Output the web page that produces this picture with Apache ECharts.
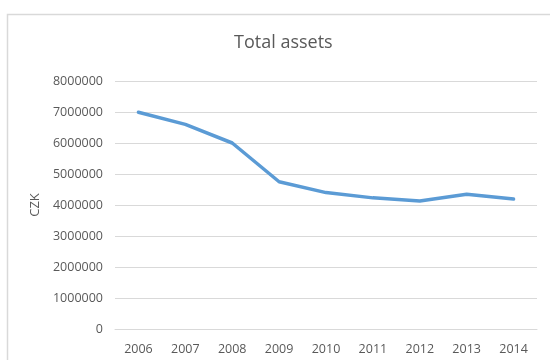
<!DOCTYPE html>
<html>
<head>
<meta charset="utf-8">
<script src="https://cdn.jsdelivr.net/npm/echarts@6/dist/echarts.min.js"></script>
<style>
  html, body { margin: 0; padding: 0; background: #ffffff; overflow: hidden; }
  #chart { width: 550px; height: 360px; }
</style>
</head>
<body>
<div id="chart"></div>
<script>
// Total assets per year, in CZK
const years = ['2006', '2007', '2008', '2009', '2010', '2011', '2012', '2013', '2014'];
const totalAssets = [6990000, 6600000, 6000000, 4750000, 4400000, 4230000, 4130000, 4350000, 4190000];
const yTicks = { min: 0, max: 8000000, interval: 1000000 };

const textColor = '#595959';
const gridColor = '#d9d9d9';
const fontFamily = '"Open Sans", "Liberation Sans", sans-serif';

const chart = echarts.init(document.getElementById('chart'), null, { renderer: 'canvas' });

chart.setOption({
  animation: false,
  backgroundColor: '#ffffff',
  graphic: [
    {
      // chart area frame
      type: 'rect',
      silent: true,
      shape: { x: 7.5, y: 14.5, width: 600, height: 400 },
      style: { fill: 'none', stroke: gridColor, lineWidth: 1.5 }
    }
  ],
  title: {
    text: 'Total assets',
    left: 234,
    top: 34,
    padding: 0,
    textStyle: {
      color: textColor,
      fontFamily: fontFamily,
      fontWeight: 'normal',
      fontSize: 18
    }
  },
  grid: {
    left: 115,
    right: 13,
    top: 81,
    bottom: 31,
    containLabel: false
  },
  xAxis: {
    type: 'category',
    data: years,
    boundaryGap: true,
    axisLine: { show: true, lineStyle: { color: gridColor, width: 1 } },
    axisTick: { show: false },
    axisLabel: {
      color: textColor,
      fontFamily: fontFamily,
      fontSize: 12.5,
      margin: 14
    }
  },
  yAxis: {
    type: 'value',
    min: yTicks.min,
    max: yTicks.max,
    interval: yTicks.interval,
    name: 'CZK',
    nameLocation: 'middle',
    nameGap: 65,
    nameRotate: 90,
    nameTextStyle: {
      color: textColor,
      fontFamily: fontFamily,
      fontSize: 13
    },
    axisLine: { show: false },
    axisTick: { show: false },
    splitLine: { lineStyle: { color: gridColor, width: 1 } },
    axisLabel: {
      color: textColor,
      fontFamily: fontFamily,
      fontSize: 12.5,
      margin: 12,
      formatter: function (v) { return String(v); }
    }
  },
  series: [
    {
      type: 'line',
      data: totalAssets,
      showSymbol: false,
      symbol: 'none',
      lineStyle: { color: '#5b9bd5', width: 3.5, cap: 'round', join: 'round' },
      itemStyle: { color: '#5b9bd5' }
    }
  ]
});
</script>
</body>
</html>
